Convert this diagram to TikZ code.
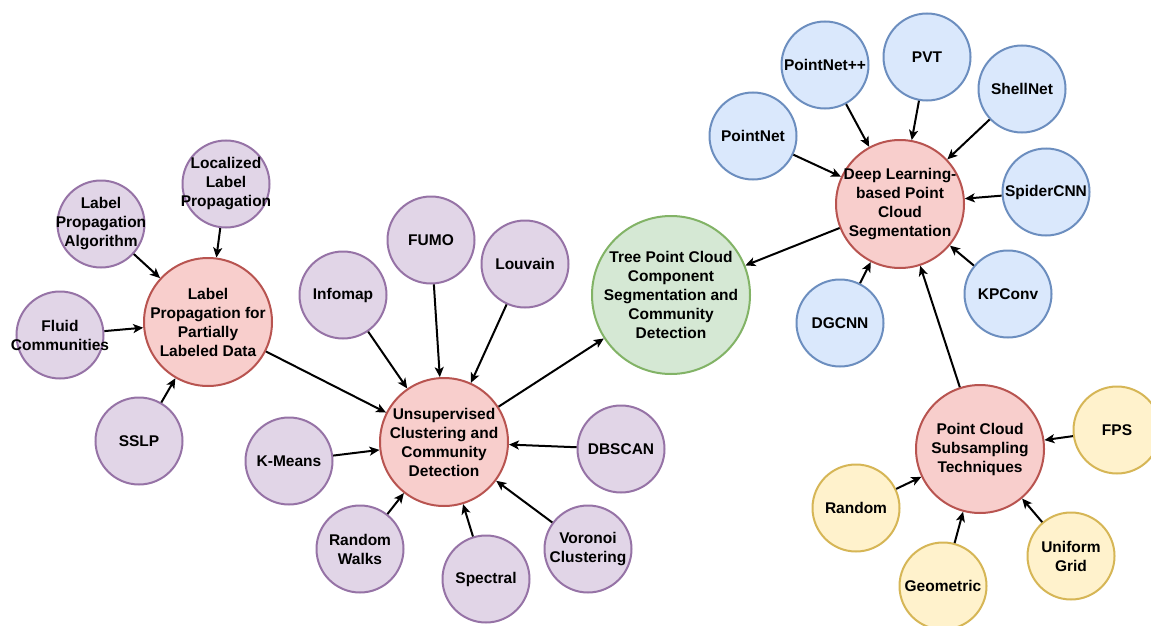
\documentclass[tikz,border=0pt]{standalone}
\usepackage{fontspec}
\setmainfont{Liberation Sans}
\usetikzlibrary{arrows.meta}
\definecolor{redfill}{HTML}{F8CECC}
\definecolor{redline}{HTML}{B85450}
\definecolor{greenfill}{HTML}{D5E8D4}
\definecolor{greenline}{HTML}{82B366}
\definecolor{purpfill}{HTML}{E1D5E7}
\definecolor{purpline}{HTML}{9673A6}
\definecolor{bluefill}{HTML}{DAE8FC}
\definecolor{blueline}{HTML}{6C8EBF}
\definecolor{yelfill}{HTML}{FFF2CC}
\definecolor{yelline}{HTML}{D6B656}
\tikzset{
  bubble/.style={circle, line width=2pt, inner sep=-25pt, align=center,
    font=\fontsize{15.5}{19}\selectfont\bfseries},
  leaf/.style={bubble, minimum size=87pt},
  hub/.style={bubble, minimum size=128pt, draw=redline, fill=redfill},
  pnode/.style={leaf, draw=purpline, fill=purpfill},
  bnode/.style={leaf, draw=blueline, fill=bluefill},
  ynode/.style={leaf, draw=yelline, fill=yelfill},
  link/.style={-{Stealth[length=10pt,width=9pt,inset=2.5pt]}, line width=2pt}
}

\begin{document}
\begin{tikzpicture}[x=1pt,y=-1pt]
\useasboundingbox[fill=white] (0,0) rectangle (1151,626);

\node[hub, draw=greenline, fill=greenfill, minimum size=158pt] (tree) at (671,295)
  {Tree Point Cloud\\Component\\Segmentation and\\Community\\Detection};
\node[hub] (deep) at (900,204) {Deep Learning-\\based Point\\Cloud\\Segmentation};
\node[hub] (subs) at (980,449) {Point Cloud\\Subsampling\\Techniques};
\node[hub] (unsup) at (444,442) {Unsupervised\\Clustering and\\Community\\Detection};
\node[hub] (labprop) at (208,322) {Label\\Propagation for\\Partially\\Labeled Data};

\node[bnode] (pointnet) at (753,136) {PointNet};
\node[bnode] (pointnetpp) at (825,65) {PointNet++};
\node[bnode] (pvt) at (927,57) {PVT};
\node[bnode] (shellnet) at (1022,89) {ShellNet};
\node[bnode] (spidercnn) at (1046,192) {SpiderCNN};
\node[bnode] (kpconv) at (1008,294) {KPConv};
\node[bnode] (dgcnn) at (840,323) {DGCNN};

\node[ynode] (fps) at (1117,430) {FPS};
\node[ynode] (random) at (856,508) {Random};
\node[ynode] (geometric) at (943,586) {Geometric};
\node[ynode] (uniform) at (1071,556) {Uniform\\Grid};

\node[pnode] (infomap) at (343,295) {Infomap};
\node[pnode] (fumo) at (431,240) {FUMO};
\node[pnode] (louvain) at (525,264) {Louvain};
\node[pnode] (dbscan) at (621,449) {DBSCAN};
\node[pnode] (voronoi) at (588,549) {Voronoi\\Clustering};
\node[pnode] (spectral) at (486,579) {Spectral};
\node[pnode] (walks) at (360,549) {Random\\Walks};
\node[pnode] (kmeans) at (289,461) {K-Means};

\node[pnode] (localized) at (226,184) {Localized\\Label\\Propagation};
\node[pnode] (lpa) at (101,224) {Label\\Propagation\\Algorithm};
\node[pnode] (fluid) at (60,335) {Fluid\\Communities};
\node[pnode] (sslp) at (139,441) {SSLP};

\foreach \src in {pointnet,pointnetpp,pvt,shellnet,spidercnn,kpconv,dgcnn,subs}
  \draw[link] (\src) -- (deep);
\foreach \src in {fps,random,geometric,uniform}
  \draw[link] (\src) -- (subs);
\foreach \src in {infomap,fumo,louvain,dbscan,voronoi,spectral,walks,kmeans,labprop}
  \draw[link] (\src) -- (unsup);
\foreach \src in {localized,lpa,fluid,sslp}
  \draw[link] (\src) -- (labprop);
\draw[link] (deep) -- (tree);
\draw[link] (unsup) -- (tree);
\end{tikzpicture}
\end{document}
